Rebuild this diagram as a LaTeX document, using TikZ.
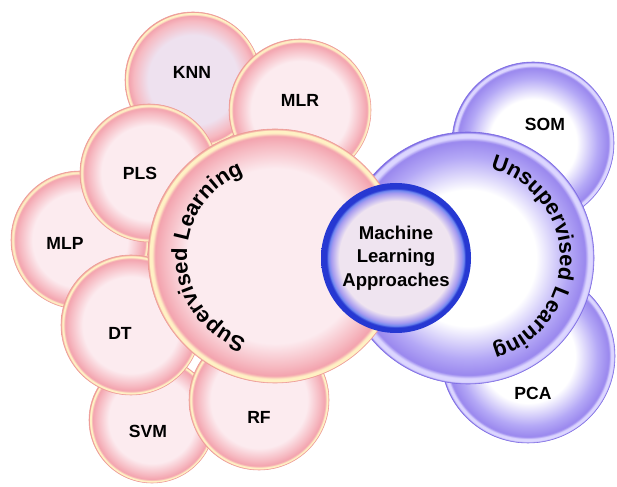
\documentclass[tikz,border=0pt]{standalone}
\usepackage{fontspec}
\setmainfont{Liberation Sans}
\usetikzlibrary{decorations.text}

% colours
\definecolor{pinkin}{HTML}{FCEBEF}
\definecolor{lavin}{HTML}{EEE1EF}
\definecolor{pinkmid}{HTML}{F6B9C1}
\definecolor{pinkedge}{HTML}{F3A3AE}
\definecolor{creamrim}{HTML}{FFF1C4}
\definecolor{pinkline}{HTML}{EE9C98}
\definecolor{purplein}{HTML}{B4A8F6}
\definecolor{purpleedge}{HTML}{9A88EE}
\definecolor{lavrim}{HTML}{DCD6FF}
\definecolor{purpleline}{HTML}{7E6CE4}
\definecolor{coreblue}{HTML}{2638D2}
\definecolor{corelight}{HTML}{7088F0}
\definecolor{coremid}{HTML}{A89CF0}
\definecolor{corein}{HTML}{EFE4F0}

% bubble shadings (circle edge sits at 25bp)
\pgfdeclareradialshading{pinkball}{\pgfpointorigin}{%
  color(0bp)=(pinkin); color(17.2bp)=(pinkin); color(21.8bp)=(pinkmid);
  color(23.6bp)=(pinkedge); color(24.2bp)=(creamrim); color(24.7bp)=(creamrim);
  color(25bp)=(pinkline); color(50bp)=(pinkline)}
\pgfdeclareradialshading{lavball}{\pgfpointorigin}{%
  color(0bp)=(lavin); color(16.5bp)=(lavin); color(21.8bp)=(pinkmid);
  color(23.6bp)=(pinkedge); color(24.2bp)=(creamrim); color(24.7bp)=(creamrim);
  color(25bp)=(pinkline); color(50bp)=(pinkline)}
\pgfdeclareradialshading{purpleball}{\pgfpointorigin}{%
  color(0bp)=(white); color(13.5bp)=(white); color(20bp)=(purplein);
  color(23.2bp)=(purpleedge); color(23.9bp)=(lavrim); color(24.6bp)=(lavrim);
  color(25bp)=(purpleline); color(50bp)=(purpleline)}
\pgfdeclareradialshading{coreball}{\pgfpointorigin}{%
  color(0bp)=(corein); color(19bp)=(corein); color(21.6bp)=(coremid);
  color(22.6bp)=(corelight); color(23.2bp)=(coreblue); color(50bp)=(coreblue)}

\newcommand{\arcfont}{\bfseries\fontsize{15.5}{18}\selectfont}

\tikzset{
  lbl/.style={font=\bfseries\fontsize{12.5}{15}\selectfont, text=black},
  corelbl/.style={font=\bfseries\fontsize{13.2}{16.7}\selectfont, align=center},
  pinkrim/.style={shading=#1, draw=pinkline, line width=0.4pt},
  purplerim/.style={shading=purpleball, draw=purpleline, line width=0.4pt}
}

\begin{document}
\begin{tikzpicture}[x=0.025cm, y=0.025cm]
    \fill[white] (0,0) rectangle (617,486);
    \useasboundingbox (0,0) rectangle (617,486);

    % unsupervised side
    \shade[purplerim] (533,343) circle[radius=81];
    \node[lbl] (SOM) at (545,362) {SOM};
    \shade[purplerim] (528,130) circle[radius=87];
    \node[lbl] (PCA) at (533,93) {PCA};
    \shade[purplerim] (468,228) circle[radius=126];
    \path[decorate, decoration={text along path, text align=center,
        text={|\arcfont|Unsupervised Learning}}]
        (468,228) ++(90.5:92) arc[start angle=90.5, end angle=-89.5, radius=92];

    % supervised methods, back to front
    \foreach \name/\cx/\cy/\r/\lx/\ly/\ball in {
        KNN/193/406/68/192/414/lavball,
        MLR/300/376/71/300/386/pinkball,
        MLP/80/246/69/65/243/pinkball,
        PLS/149/313/69/140/313/pinkball,
        SVM/152/66/63/148/55/pinkball,
        DT/131/161/70/120/153/pinkball,
        RF/259/86/70/259/69/pinkball}{
      \shade[pinkrim=\ball] (\cx,\cy) circle[radius=\r];
      \node[lbl] (\name) at (\lx,\ly) {\name};
    }

    % supervised circle
    \shade[pinkrim=pinkball] (275,230) circle[radius=127];
    \path[decorate, decoration={text along path, text align=center,
        text={|\arcfont|Supervised Learning}}]
        (275,230) ++(271:88) arc[start angle=271, end angle=91, radius=88];

    % centre
    \shade[shading=coreball] (396,228) circle[radius=75];
    \node[corelbl] (core) at (396,228) {Machine\\Learning\\Approaches};
\end{tikzpicture}
\end{document}
